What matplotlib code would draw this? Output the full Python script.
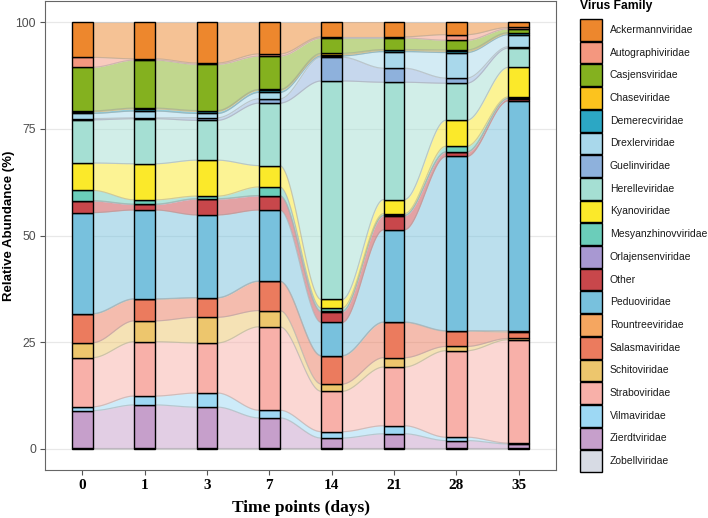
"""
alluvial plot of virus family relative abundance over time
"""
import matplotlib
matplotlib.use("Agg")
import matplotlib.pyplot as plt
import numpy as np
from matplotlib.patches import Rectangle

time_points = ["0", "1", "3", "7", "14", "21", "28", "35"]

# stacking order, top of the bar first (legend order)
families = ["Ackermannviridae", "Autographiviridae", "Casjensviridae", "Chaseviridae",
            "Demerecviridae", "Drexlerviridae", "Guelinviridae", "Herelleviridae",
            "Kyanoviridae", "Mesyanzhinovviridae", "Orlajensenviridae", "Other",
            "Peduoviridae", "Rountreeviridae", "Salasmaviridae", "Schitoviridae",
            "Straboviridae", "Vilmaviridae", "Zierdtviridae", "Zobellviridae"]

colors = ["#ED872D", "#F4977F", "#84B11F", "#FCC31E", "#2CA7C4", "#A9D8EB", "#8EB1DC",
          "#A5DFD3", "#FBE92A", "#6BCDBA", "#A898D2", "#C8474B", "#78C1DD", "#F5A660",
          "#EB7B5E", "#EDC66D", "#F8B0A9", "#9DD8F4", "#C69FCB", "#D7DBE4"]

ackermann = [8.2, 8.6, 9.5, 7.4, 3.4, 3.4, 2.9, 1.2]
autographi = [2.3, 0.3, 0.3, 0.5, 0.3, 0.3, 1.3, 0.3]
casjens = [10.2, 11.3, 10.8, 7.8, 3.6, 2.7, 2.3, 0.9]
chase = [0.2, 0.2, 0.2, 0.2, 0.3, 0.2, 0.3, 0.2]
demerec = [0.4, 0.5, 0.5, 0.5, 0.3, 0.3, 0.3, 0.3]
drexler = [1.2, 1.6, 1.0, 1.5, 0.3, 3.9, 6.0, 2.8]
guelin = [0.3, 0.2, 0.6, 1.0, 5.6, 3.3, 1.2, 0.3]
herelle = [10.1, 10.6, 9.3, 14.6, 51.4, 27.6, 8.7, 4.5]
kyano = [6.4, 8.5, 8.4, 5.0, 2.0, 3.3, 6.1, 6.9]
mesyanzhinov = [2.4, 1.0, 0.6, 2.0, 0.8, 0.4, 1.3, 0.3]
orlajensen = [0.1, 0.1, 0.1, 0.1, 0.1, 0.1, 0.1, 0.1]
other = [2.7, 1.3, 3.7, 3.3, 2.5, 3.3, 1.0, 0.5]
peduo = [23.6, 20.9, 19.3, 16.6, 7.8, 21.7, 40.9, 53.6]
rountree = [0.1, 0.1, 0.1, 0.1, 0.1, 0.1, 0.1, 0.3]
salasma = [6.7, 5.1, 4.5, 6.8, 6.6, 8.3, 3.6, 1.5]
schito = [3.5, 4.9, 6.0, 3.8, 1.7, 2.2, 1.0, 0.3]
strabo = [11.5, 12.8, 11.7, 19.5, 9.5, 13.8, 20.3, 24.1]
vilma = [0.9, 2.1, 3.3, 1.8, 1.5, 1.9, 0.8, 0.2]
zierdt = [8.8, 10.2, 9.6, 7.1, 2.4, 3.4, 1.8, 1.0]
zobell = [0.1, 0.1, 0.1, 0.1, 0.1, 0.1, 0.1, 0.1]

values = np.array([ackermann, autographi, casjens, chase, demerec, drexler, guelin,
                   herelle, kyano, mesyanzhinov, orlajensen, other, peduo, rountree,
                   salasma, schito, strabo, vilma, zierdt, zobell])
values = values / values.sum(axis=0) * 100

# bottom of stack is the last family
order = list(range(len(families)))[::-1]
stack = values[order]
tops = np.cumsum(stack, axis=0)
bottoms = tops - stack

x = np.arange(len(time_points))
w = 1 / 3

fig = plt.figure(figsize=(7.08, 5.18), dpi=100)
ax = fig.add_axes([45 / 708, 48 / 518, 511 / 708, 469 / 518])

# flows between bars
t = np.linspace(0, 1, 60)
s = 3 * t**2 - 2 * t**3
for k, fi in enumerate(order):
    c = colors[fi]
    for i in range(len(x) - 1):
        xa, xb = x[i] + w / 2, x[i + 1] - w / 2
        xx = xa + (xb - xa) * t
        lo = bottoms[k, i] + (bottoms[k, i + 1] - bottoms[k, i]) * s
        hi = tops[k, i] + (tops[k, i + 1] - tops[k, i]) * s
        ax.fill_between(xx, lo, hi, color=c, alpha=0.5, lw=0, zorder=2)
        ax.plot(xx, lo, color="#b0b0b0", alpha=0.45, lw=0.8, zorder=2)
        ax.plot(xx, hi, color="#b0b0b0", alpha=0.45, lw=0.8, zorder=2)

# stacked bars
for k, fi in enumerate(order):
    ax.bar(x, stack[k], bottom=bottoms[k], width=w, color=colors[fi],
           edgecolor="black", linewidth=1.0, zorder=3)

ax.set_xlim(-0.6, len(x) - 0.4)
ax.set_ylim(-5, 105)
ax.set_yticks([0, 25, 50, 75, 100])
ax.set_xticks(x)
ax.set_xticklabels(time_points, fontfamily="Liberation Serif", fontweight="bold",
                   fontsize=11, color="black")
for lab in ax.get_yticklabels():
    lab.set_fontfamily("Liberation Sans")
    lab.set_fontsize(8.8)
    lab.set_color("#4d4d4d")
ax.tick_params(axis="both", length=3.5, width=0.8, color="#555555", pad=3)
ax.yaxis.grid(True, color="#e8e8e8", lw=0.9)
ax.set_axisbelow(True)
for sp in ax.spines.values():
    sp.set_color("#666666")
    sp.set_linewidth(0.8)

ax.set_ylabel("Relative Abundance (%)", fontfamily="Liberation Sans", fontweight="bold",
              fontsize=9.5)
ax.yaxis.label.set_va("center")
ax.yaxis.set_label_coords(-36 / 511, 0.52)
ax.set_xlabel("Time points (days)", fontfamily="Liberation Serif", fontweight="bold",
              fontsize=12.5)
ax.xaxis.label.set_va("center")
ax.xaxis.set_label_coords(0.5, -38 / 469)

# legend drawn in pixel coordinates
lax = fig.add_axes([0, 0, 1, 1])
lax.set_xlim(0, 708)
lax.set_ylim(518, 0)
lax.axis("off")
lax.text(580, 6, "Virus Family", fontfamily="Liberation Sans", fontweight="bold",
         fontsize=8.7, va="center", ha="left")
for j, (name, c) in enumerate(zip(families, colors)):
    y0 = 19 + 22.7 * j
    lax.add_patch(Rectangle((580, y0), 21.7, 21.7, facecolor=c, edgecolor="black", lw=1.0))
    lax.text(610, y0 + 10.85, name, fontfamily="Liberation Sans", fontsize=7.5,
             va="center", ha="left", color="#1a1a1a")

plt.savefig("out.png", dpi=100)
